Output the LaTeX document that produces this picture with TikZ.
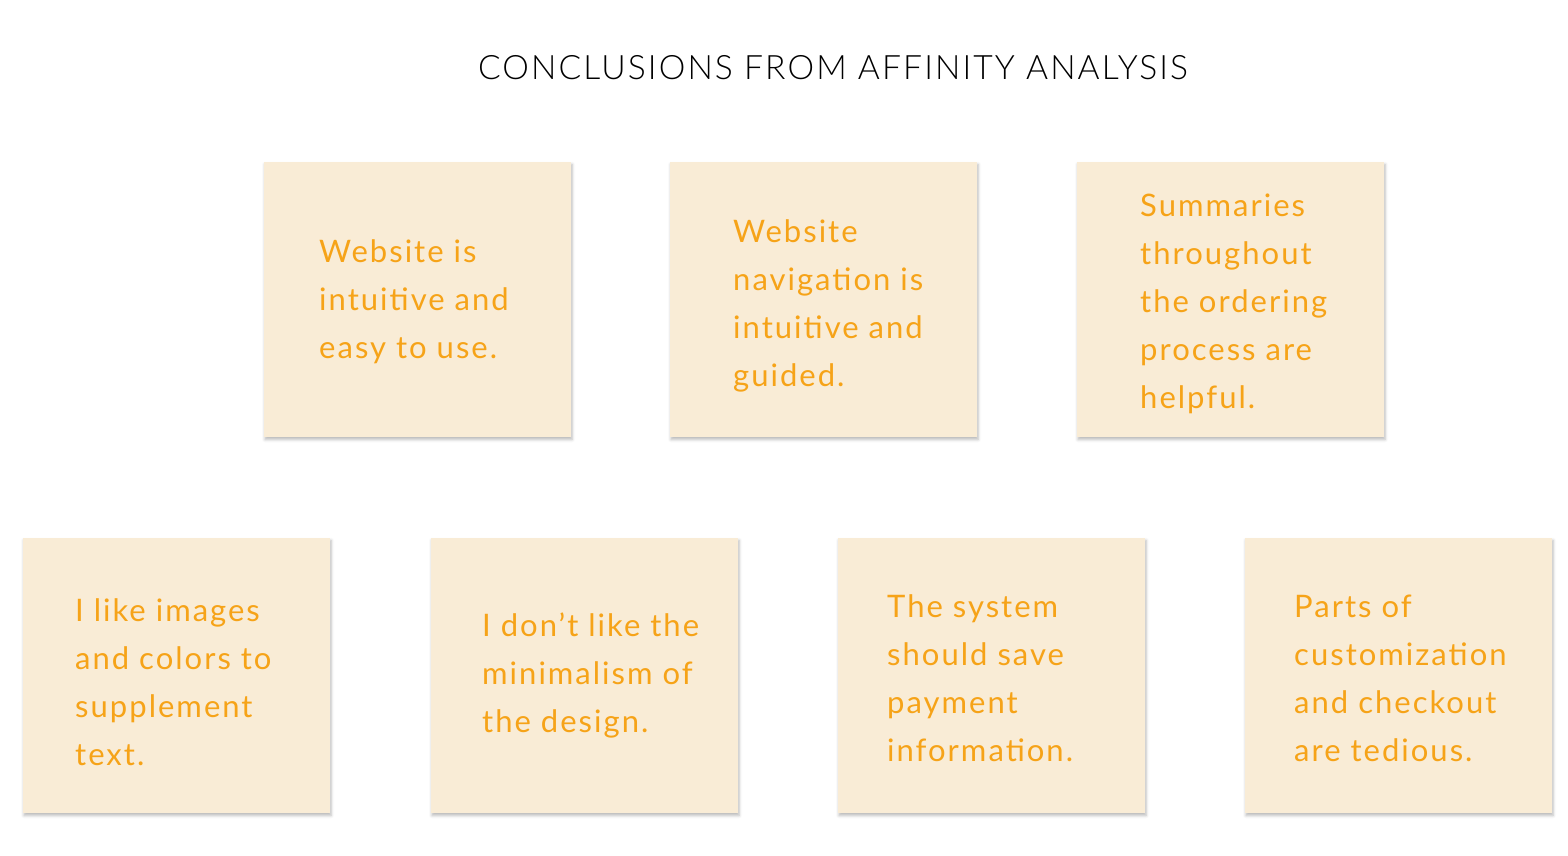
\documentclass[tikz,border=0pt]{standalone}
\usepackage{fontspec}
\setmainfont{Lato}
\newfontfamily\titlefont[LetterSpace=6.2]{Lato Light}
\newfontfamily\notefont[LetterSpace=6.5]{Lato}
\usetikzlibrary{shadows.blur}
\definecolor{cardfill}{HTML}{F9ECD6}
\definecolor{cardtext}{HTML}{F6A318}

\begin{document}
\begin{tikzpicture}[x=1pt,y=-1pt,
    card/.style={fill=cardfill, minimum width=307pt, minimum height=275pt, inner sep=0pt,
      blur shadow={shadow xshift=1pt, shadow yshift=-2.5pt, shadow blur radius=3pt, shadow opacity=28}},
    note/.style={anchor=west, align=left, inner sep=0pt, text=cardtext, font=\notefont\fontsize{31}{48}\selectfont}]
    \useasboundingbox (0,0) rectangle (1568,856);

    \node[font=\titlefont\fontsize{33.6}{40}\selectfont] (title) at (833,68) {CONCLUSIONS FROM AFFINITY ANALYSIS};

    % top row
    \node[card] (c1) at (417.5,299.5) {};
    \node[card] (c2) at (823.5,299.5) {};
    \node[card] (c3) at (1230.5,299.5) {};

    % bottom row
    \node[card] (c4) at (176.5,675.5) {};
    \node[card] (c5) at (584.5,675.5) {};
    \node[card] (c6) at (991.5,675.5) {};
    \node[card] (c7) at (1398.5,675.5) {};

    \node[note] (t1) at (319,302) {Website is\\ intuitive and\\ easy to use.};
    \node[note] (t2) at (733,306) {Website\\ navigation is\\ intuitive and\\ guided.};
    \node[note] (t3) at (1140,304) {Summaries\\ throughout\\ the ordering\\ process are\\ helpful.};
    \node[note] (t4) at (75,682) {I like images\\ and colors to\\ supplement\\ text.};
    \node[note] (t5) at (482,675) {I don’t like the\\ minimalism of\\ the design.};
    \node[note] (t6) at (887,678) {The system\\ should save\\ payment\\ information.};
    \node[note] (t7) at (1294,678) {Parts of\\ customization\\ and checkout\\ are tedious.};
\end{tikzpicture}
\end{document}
